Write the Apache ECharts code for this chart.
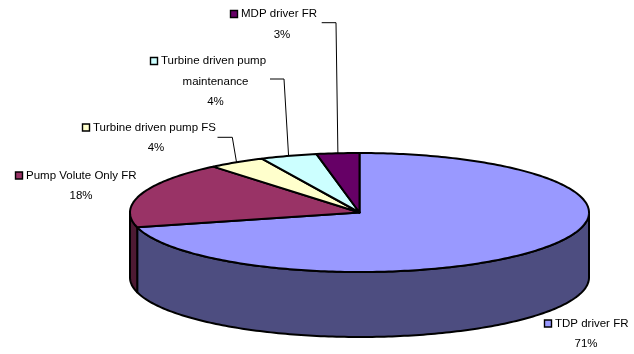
<!DOCTYPE html>
<html>
<head>
<meta charset="utf-8">
<script src="https://cdn.jsdelivr.net/npm/echarts@6/dist/echarts.min.js"></script>
<style>
  html, body { margin: 0; padding: 0; background: #ffffff; }
  #chart { width: 634px; height: 354px; }
</style>
</head>
<body>
<div id="chart"></div>
<script>
// Failure contributions, in percent
const categories = ['TDP driver FR', 'Pump Volute Only FR', 'Turbine driven pump FS', 'Turbine driven pump maintenance', 'MDP driver FR'];
const shares = [71, 18, 4, 4, 3];
const labelLines = [['TDP driver FR'], ['Pump Volute Only FR'], ['Turbine driven pump FS'], ['Turbine driven pump', 'maintenance'], ['MDP driver FR']];

// Face colours (top) and shaded wall colours (side)
const topColors = ['#9999FF', '#993366', '#FFFFCC', '#CCFFFF', '#660066'];
const sideColors = ['#4D4D80', '#4D1A33', '#808066', '#668080', '#330033'];

// Tilted disc geometry (pixels)
const DISC = { cx: 359.5, cy: 212.5, rx: 229.5, ry: 59.5, depth: 65 };

// Label placement: text left edge, first line centre y, centre x of the following lines
const labelPos = [
  { textX: 555, y: 323.5, midX: 586 },
  { textX: 26, y: 175.5, midX: 81 },
  { textX: 93, y: 127.5, midX: 156 },
  { textX: 161, y: 61, midX: 215.5 },
  { textX: 241, y: 14, midX: 282 }
];
// Leader line start and elbow; the end sits on the slice rim
const leaderPath = [
  null,
  null,
  [[217.5, 137.3], [232.3, 137.3]],
  [[270, 79], [284, 79]],
  [[321.7, 22.7], [336, 22.7]]
];

const FONT = '11.5px "Liberation Sans", Arial, sans-serif';
const LINE_GAP = 20.5;
const EDGE = 2;
const total = shares.reduce((a, b) => a + b, 0);

// Start at 12 o'clock and run clockwise
function sliceAngles(i) {
  let before = 0;
  for (let k = 0; k < i; k++) before += shares[k];
  const a0 = 90 - 360 * before / total;
  const a1 = 90 - 360 * (before + shares[i]) / total;
  return [a1, a0];
}
function rim(deg, drop) {
  const r = deg * Math.PI / 180;
  return [DISC.cx + DISC.rx * Math.cos(r), DISC.cy - DISC.ry * Math.sin(r) + (drop || 0)];
}
function arc(from, to, drop) {
  const pts = [];
  const n = Math.max(2, Math.ceil(Math.abs(to - from)));
  for (let s = 0; s <= n; s++) pts.push(rim(from + (to - from) * s / n, drop));
  return pts;
}

function renderSide(params) {
  const i = params.dataIndex;
  const [lo, hi] = sliceAngles(i);
  const children = [];
  // visible wall: the front half of the rim (angles between -180 and 0, modulo 360)
  for (let k = -2; k <= 1; k++) {
    const s = Math.max(lo, -180 + 360 * k);
    const e = Math.min(hi, 360 * k);
    if (e - s <= 0) continue;
    const pts = arc(s, e, 0).concat(arc(e, s, DISC.depth));
    children.push({
      type: 'polygon',
      shape: { points: pts },
      style: { fill: sideColors[i], stroke: '#000', lineWidth: EDGE, lineJoin: 'round' }
    });
  }
  return { type: 'group', children };
}

function renderTop(params) {
  const i = params.dataIndex;
  const [lo, hi] = sliceAngles(i);
  const pts = [[DISC.cx, DISC.cy]].concat(arc(hi, lo, 0));
  return {
    type: 'polygon',
    shape: { points: pts },
    style: { fill: topColors[i], stroke: '#000', lineWidth: EDGE, lineJoin: 'round' }
  };
}

function renderLabel(params) {
  const i = params.dataIndex;
  const pos = labelPos[i];
  const lines = labelLines[i];
  const children = [];
  children.push({
    type: 'rect',
    shape: { x: pos.textX - 10.5, y: pos.y - 3.5, width: 7, height: 7 },
    style: { fill: topColors[i], stroke: '#000', lineWidth: 1.4 }
  });
  children.push({
    type: 'text',
    style: { text: lines[0], x: pos.textX, y: pos.y, font: FONT, fill: '#000', align: 'left', verticalAlign: 'middle' }
  });
  const rest = lines.slice(1).concat([Math.round(100 * shares[i] / total) + '%']);
  rest.forEach((t, j) => {
    children.push({
      type: 'text',
      style: { text: t, x: pos.midX, y: pos.y + LINE_GAP * (j + 1), font: FONT, fill: '#000', align: 'center', verticalAlign: 'middle' }
    });
  });
  const path = leaderPath[i];
  if (path) {
    const [lo, hi] = sliceAngles(i);
    const end = rim((lo + hi) / 2, 0);
    children.push({
      type: 'polyline',
      shape: { points: path.concat([end]) },
      style: { stroke: '#000', lineWidth: 1, fill: null }
    });
  }
  return { type: 'group', children };
}

const seriesData = shares.map((v, i) => ({ name: categories[i], value: [i, v] }));

const chart = echarts.init(document.getElementById('chart'), null, { renderer: 'canvas' });
chart.setOption({
  backgroundColor: '#ffffff',
  animation: false,
  series: [
    { type: 'custom', coordinateSystem: 'none', z: 1, data: seriesData, renderItem: renderSide, silent: true },
    { type: 'custom', coordinateSystem: 'none', z: 2, data: seriesData, renderItem: renderTop, silent: true },
    { type: 'custom', coordinateSystem: 'none', z: 3, data: seriesData, renderItem: renderLabel, silent: true }
  ]
});
</script>
</body>
</html>
